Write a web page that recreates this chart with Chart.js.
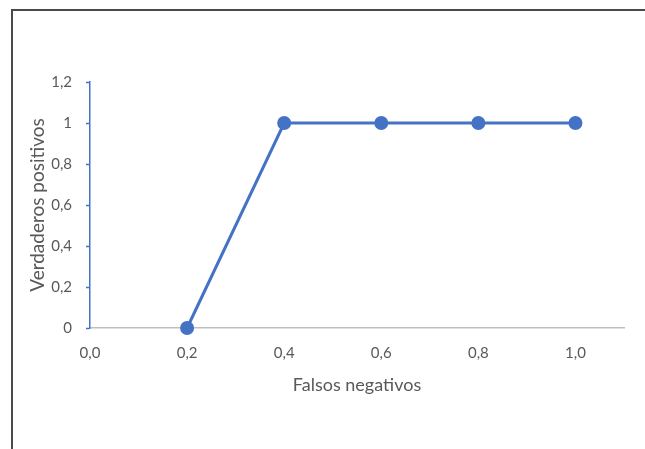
<!DOCTYPE html>
<html>
<head>
<meta charset="utf-8">
<script src="https://cdn.jsdelivr.net/npm/chart.js@4"></script>
<style>
  html, body { margin: 0; padding: 0; background: #fff; }
  #wrap { width: 645px; height: 449px; position: relative; }
</style>
</head>
<body>
<div id="wrap"><canvas id="roc"></canvas></div>
<script>
// Data
const falsosNegativos = [0.2, 0.4, 0.6, 0.8, 1.0];
const verdaderosPositivos = [0, 1, 1, 1, 1];
const xTickValues = [0, 0.2, 0.4, 0.6, 0.8, 1.0];
const xTickLabels = ['0,0', '0,2', '0,4', '0,6', '0,8', '1,0'];
const yTickValues = [0, 0.2, 0.4, 0.6, 0.8, 1.0, 1.2];
const yTickLabels = ['0', '0,2', '0,4', '0,6', '0,8', '1', '1,2'];

const blue = '#4472c4';
const textGray = '#595959';
const fontName = 'Lato, "Open Sans", sans-serif';

function labelFor(values, labels, v) {
  const i = values.findIndex(t => Math.abs(t - v) < 1e-6);
  return i === -1 ? '' : labels[i];
}

// frame around the picture
const framePlugin = {
  id: 'frame',
  afterDraw(chart) {
    const ctx = chart.ctx;
    ctx.save();
    ctx.strokeStyle = '#4a4a4a';
    ctx.lineWidth = 2;
    ctx.beginPath();
    ctx.moveTo(12, 449);
    ctx.lineTo(12, 10);
    ctx.lineTo(645, 10);
    ctx.stroke();
    ctx.restore();
  }
};

const ctx = document.getElementById('roc').getContext('2d');
const rocChart = new Chart(ctx, {
  type: 'scatter',
  data: {
    datasets: [{
      label: 'Curva',
      data: falsosNegativos.map((x, i) => ({ x: x, y: verdaderosPositivos[i] })),
      showLine: true,
      borderColor: blue,
      backgroundColor: blue,
      borderWidth: 3,
      pointRadius: 5.5,
      pointHoverRadius: 5.5,
      clip: false
    }]
  },
  options: {
    responsive: true,
    maintainAspectRatio: false,
    animation: false,
    layout: { padding: { top: 82, right: 21, bottom: 49, left: 0 } },
    plugins: {
      legend: { display: false },
      tooltip: { enabled: false }
    },
    scales: {
      x: {
        type: 'linear',
        min: 0,
        max: 1.1,
        afterFit: s => { s.height = 72; },
        afterBuildTicks: s => { s.ticks = xTickValues.map(v => ({ value: v })); },
        grid: { display: false, drawTicks: false },
        border: { display: true, color: '#bfbfbf', width: 1.5 },
        ticks: {
          color: textGray,
          font: { family: fontName, size: 15 },
          padding: 16,
          maxRotation: 0,
          callback: v => labelFor(xTickValues, xTickLabels, v)
        },
        title: {
          display: true,
          text: 'Falsos negativos',
          color: textGray,
          font: { family: fontName, size: 18 },
          padding: { top: 0, bottom: 4 }
        }
      },
      y: {
        min: 0,
        max: 1.2,
        afterFit: s => { s.width = 90; },
        afterBuildTicks: s => { s.ticks = yTickValues.map(v => ({ value: v })); },
        grid: { drawOnChartArea: false, drawTicks: true, tickLength: 4, tickColor: blue, tickWidth: 1.5 },
        border: { display: true, color: blue, width: 1.5 },
        ticks: {
          color: textGray,
          font: { family: fontName, size: 15 },
          padding: 14,
          callback: v => labelFor(yTickValues, yTickLabels, v)
        },
        title: {
          display: true,
          text: 'Verdaderos positivos',
          color: textGray,
          font: { family: fontName, size: 19 },
          padding: { top: 26, bottom: 0 }
        }
      }
    }
  },
  plugins: [framePlugin]
});
</script>
</body>
</html>
